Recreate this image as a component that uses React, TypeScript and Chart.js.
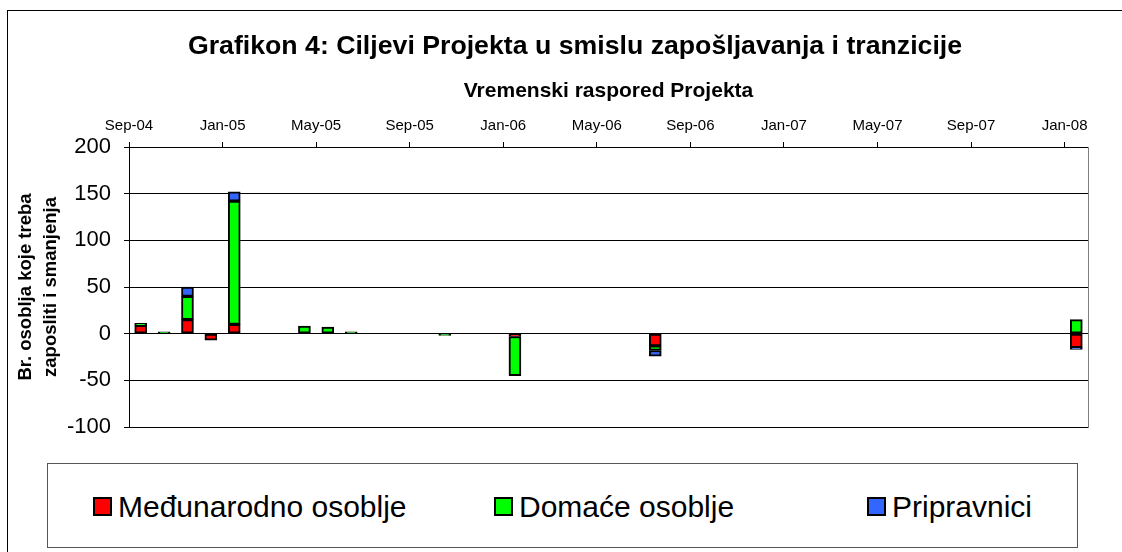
import React, { useEffect, useRef } from 'react';
import { Chart, registerables } from 'chart.js';

Chart.register(...registerables);

const chartTitle = 'Grafikon 4: Ciljevi Projekta u smislu zapošljavanja i tranzicije';
const xAxisTitle = 'Vremenski raspored Projekta';
const yAxisTitle = ['Br. osoblja koje treba', 'zaposliti i smanjenja'];
const seriesNames = ['Međunarodno osoblje', 'Domaće osoblje', 'Pripravnici'];
const seriesColors = ['#FF0000', '#00FF00', '#3366FF'];

// Months (year-month) at which bars are placed
const barMonths = ['2004-09', '2004-10', '2004-11', '2004-12', '2005-01', '2005-04', '2005-05', '2005-06', '2005-10', '2006-01', '2006-07', '2008-01'];
const internationalStaff = [9, 0, 15, -7, 10, 0, 0, 0, 0, -3, -13, -15];
const localStaff = [2, 2, 25, 0, 132, 8, 7, 2, -2, -42, -5, 15];
const interns = [0, 0, 10, 0, 10, 0, 0, 0, 0, 0, -6, -2];

const axisStartMonth = '2004-09';
const axisEndMonth = '2008-02';
const tickMonths = ['2004-09', '2005-01', '2005-05', '2005-09', '2006-01', '2006-05', '2006-09', '2007-01', '2007-05', '2007-09', '2008-01'];
const tickLabels = ['Sep-04', 'Jan-05', 'May-05', 'Sep-05', 'Jan-06', 'May-06', 'Sep-06', 'Jan-07', 'May-07', 'Sep-07', 'Jan-08'];

const yMin = -100;
const yMax = 200;
const yStep = 50;

const FONT = '"Liberation Sans", Arial, Helvetica, sans-serif';

function monthIndex(ym: string): number {
  const [y, m] = ym.split('-').map(Number);
  const [y0, m0] = axisStartMonth.split('-').map(Number);
  return (y - y0) * 12 + (m - m0);
}

const seriesValues = [internationalStaff, localStaff, interns];

const titlePlugin = {
  id: 'mainTitle',
  afterDraw(chart: any) {
    const ctx = chart.ctx;
    ctx.save();
    ctx.font = `bold 26.7px ${FONT}`;
    ctx.fillStyle = '#000';
    ctx.textAlign = 'center';
    ctx.textBaseline = 'middle';
    ctx.fillText(chartTitle, 575, 47);
    ctx.restore();
  },
};

export default function App() {
  const canvasRef = useRef<HTMLCanvasElement | null>(null);

  useEffect(() => {
    if (!canvasRef.current) return;
    const tickValues = tickMonths.map(monthIndex);
    const chart = new Chart(canvasRef.current, {
      type: 'bar',
      data: {
        datasets: seriesNames.map((name, s) => ({
          label: name,
          data: barMonths.map((m, i) => ({
            x: monthIndex(m) + 0.5,
            y: seriesValues[s][i] === 0 ? null : seriesValues[s][i],
          })),
          backgroundColor: seriesColors[s],
          borderColor: '#000',
          borderWidth: 2,
          borderSkipped: false,
          barThickness: 12,
        })),
      },
      options: {
        responsive: false,
        animation: false,
        layout: { padding: { left: 8, right: 34, top: 62, bottom: 33 } },
        plugins: {
          legend: { display: false },
          tooltip: { enabled: false },
          title: { display: false },
        },
        scales: {
          x: {
            type: 'linear',
            position: 'top',
            stacked: true,
            offset: false,
            min: 0,
            max: monthIndex(axisEndMonth),
            afterBuildTicks: (scale: any) => {
              scale.ticks = tickValues.map((v) => ({ value: v }));
            },
            afterFit: (scale: any) => {
              scale.height = 85;
            },
            ticks: {
              autoSkip: false,
              maxRotation: 0,
              padding: 7,
              color: '#000',
              font: { family: FONT, size: 15 },
              callback: (v: any) => {
                const i = tickValues.indexOf(Number(v));
                return i >= 0 ? tickLabels[i] : '';
              },
            },
            grid: { display: true, offset: false, drawOnChartArea: false, drawTicks: true, tickLength: 5, color: '#000' },
            border: { display: true, color: '#000', width: 1 },
            title: {
              display: true,
              text: xAxisTitle,
              color: '#000',
              font: { family: FONT, size: 21, weight: 'bold' },
              padding: { top: 17, bottom: 0 },
            },
          },
          y: {
            type: 'linear',
            position: 'left',
            stacked: true,
            min: yMin,
            max: yMax,
            afterFit: (scale: any) => {
              scale.width = 121;
            },
            ticks: {
              stepSize: yStep,
              padding: 13,
              color: '#000',
              font: { family: FONT, size: 22 },
            },
            grid: { display: true, drawOnChartArea: true, drawTicks: true, tickLength: 5, color: '#000', lineWidth: 1 },
            border: { display: true, color: '#000', width: 1 },
            title: {
              display: true,
              text: yAxisTitle,
              color: '#000',
              font: { family: FONT, size: 18.5, weight: 'bold', lineHeight: 1.35 },
              padding: { top: 5, bottom: 0 },
            },
          },
          yRight: {
            type: 'linear',
            position: 'right',
            min: yMin,
            max: yMax,
            afterFit: (scale: any) => {
              scale.width = 0;
            },
            ticks: { display: false },
            grid: { display: false, drawTicks: false },
            border: { display: true, color: '#808080', width: 1 },
          },
        },
      },
      plugins: [titlePlugin],
    } as any);
    return () => chart.destroy();
  }, []);

  const legendItemLefts = [92, 493, 866];

  return (
    <div style={{ position: 'fixed', left: 0, top: 0, width: 1122, height: 552, background: '#fff', overflow: 'hidden', fontFamily: FONT }}>
      <div style={{ position: 'absolute', left: 7, top: 10, width: 1300, height: 700, borderTop: '1px solid #000', borderLeft: '1px solid #000' }} />
      <canvas ref={canvasRef} width={1122} height={460} style={{ position: 'absolute', left: 0, top: 0, width: 1122, height: 460 }} />
      <div style={{ position: 'absolute', left: 47, top: 463, width: 1031, height: 85, border: '1px solid #555', boxSizing: 'border-box' }}>
        {seriesNames.map((name, i) => (
          <div key={name} style={{ position: 'absolute', left: legendItemLefts[i] - 47, top: 0, height: 85, display: 'flex', alignItems: 'center', whiteSpace: 'nowrap' }}>
            <span style={{ display: 'inline-block', width: 19, height: 19, background: seriesColors[i], border: '2px solid #000', boxSizing: 'border-box', marginRight: 6 }} />
            <span style={{ fontSize: 30, color: '#000', lineHeight: '34px' }}>{name}</span>
          </div>
        ))}
      </div>
    </div>
  );
}
